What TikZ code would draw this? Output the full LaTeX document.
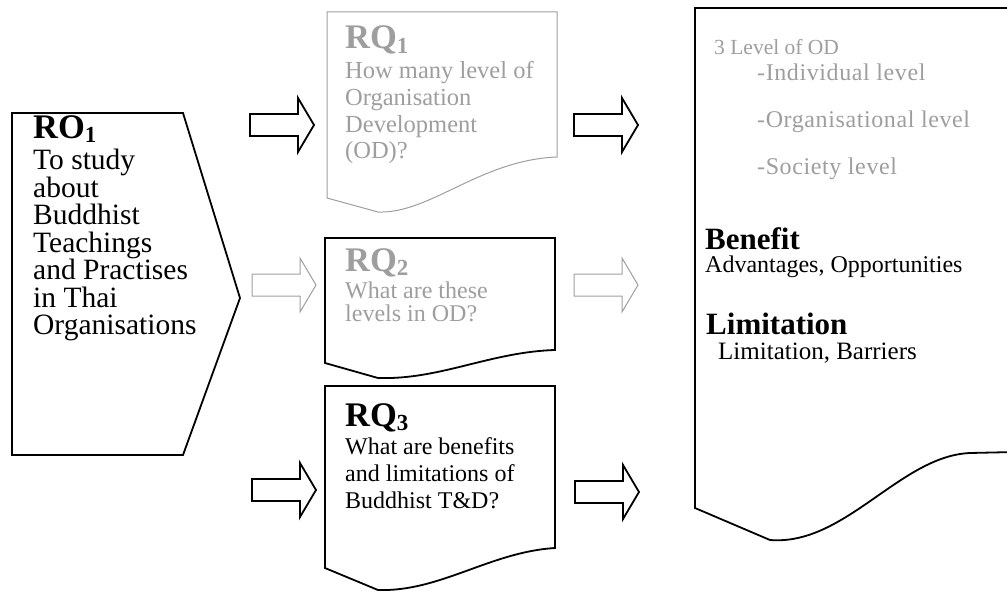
\documentclass[tikz,border=0pt]{standalone}
\usepackage{fontspec}
\setmainfont{Liberation Serif}
\colorlet{faint}{black!38}
\newcommand\lowidx[1]{\raisebox{-0.12em}{\fontsize{23}{23}\selectfont #1}}
\tikzset{
  txt/.style={anchor=base west, inner sep=0pt, font=\fontsize{24}{27}\selectfont},
  rotxt/.style={txt, font=\fontsize{29.5}{30}\selectfont},
  head/.style={txt, font=\fontsize{31}{33}\selectfont\bfseries},
  bighead/.style={txt, font=\fontsize{34.5}{36}\selectfont\bfseries},
  smalltxt/.style={txt, font=\fontsize{24}{26}\selectfont\addfontfeature{LetterSpace=2.5}, text=faint},
  darkline/.style={draw=black, line width=1.8pt, line join=miter},
  faintline/.style={draw=faint, line width=1pt},
  pics/barrow/.style={code={
    \draw[#1] (0,-11) -- (48,-11) -- (48,-27) -- (64,0) -- (48,27) -- (48,11) -- (0,11) -- cycle;}}
}
\begin{document}
\begin{tikzpicture}[x=1pt,y=-1pt]
\useasboundingbox (0,0) rectangle (1007,602);
\clip (0,0) rectangle (1007,602);
% RO1 pentagon
\draw[darkline] (12,113) -- (183,113) -- (240,298) -- (183,455) -- (12,455) -- cycle;
\node[bighead] (ro) at (33,138) {RO\lowidx{1}};
\node[rotxt] (ro1) at (33,169) {To study};
\node[rotxt] (ro2) at (33,197) {about};
\node[rotxt] (ro3) at (33,224) {Buddhist};
\node[rotxt] (ro4) at (33,252) {Teachings};
\node[rotxt] (ro5) at (33,279) {and Practises};
\node[rotxt] (ro6) at (33,307) {in Thai};
\node[rotxt] (ro7) at (33,334) {Organisations};
% RQ1 (faint)
\draw[faintline] (327,12) -- (557,12) -- (557,157) .. controls (480,160) and (430,214) .. (378,212) -- (327,198) -- cycle;
\node[bighead, text=faint] (rq1) at (345,49) {RQ\lowidx{1}};
\node[txt, text=faint, font=\fontsize{24.5}{27}\selectfont] (rq1a) at (345,78) {How many level of};
\node[txt, text=faint, font=\fontsize{24.5}{27}\selectfont] (rq1b) at (345,105) {Organisation};
\node[txt, text=faint, font=\fontsize{24.5}{27}\selectfont] (rq1c) at (345,132) {Development};
\node[txt, text=faint, font=\fontsize{24.5}{27}\selectfont] (rq1d) at (345,158) {(OD)?};
% RQ2
\draw[darkline] (325,238) -- (555,238) -- (555,350) .. controls (490,352) and (440,380) .. (378,378) -- (325,363) -- cycle;
\node[bighead, text=faint] (rq2) at (345,271) {RQ\lowidx{2}};
\node[txt, text=faint] (rq2a) at (345,298) {What are these};
\node[txt, text=faint] (rq2b) at (345,321) {levels in OD?};
% RQ3
\draw[darkline] (325,386) -- (555,386) -- (555,548) .. controls (490,552) and (440,592) .. (378,590) -- (325,568) -- cycle;
\node[bighead] (rq3) at (345,426) {RQ\lowidx{3}};
\node[txt] (rq3a) at (345,454) {What are benefits};
\node[txt] (rq3b) at (345,481) {and limitations of};
\node[txt] (rq3c) at (345,508) {Buddhist T\&D?};
% right document
\draw[darkline] (1015,8) -- (695,8) -- (695,508) -- (770,540) .. controls (845,546) and (900,456) .. (970,453) -- (1015,452);
\node[smalltxt, font=\fontsize{21.5}{24}\selectfont] (lv) at (714,55) {3 Level of OD};
\node[smalltxt] (lv1) at (757,81) {-Individual level};
\node[smalltxt] (lv2) at (757,128) {-Organisational level};
\node[smalltxt] (lv3) at (757,174) {-Society level};
\node[head] (ben) at (705,249) {Benefit};
\node[txt] (ben1) at (705,272) {Advantages, Opportunities};
\node[head] (lim) at (706,334) {Limitation};
\node[txt, font=\fontsize{25}{27}\selectfont] (lim1) at (718,359) {Limitation, Barriers};
% block arrows
\pic at (250,125) {barrow={darkline}};
\pic at (574,125) {barrow={darkline}};
\pic at (252,285) {barrow={faintline}};
\pic at (574,285) {barrow={faintline}};
\pic at (252,490) {barrow={darkline}};
\pic at (575,492) {barrow={darkline}};
\end{tikzpicture}
\end{document}
